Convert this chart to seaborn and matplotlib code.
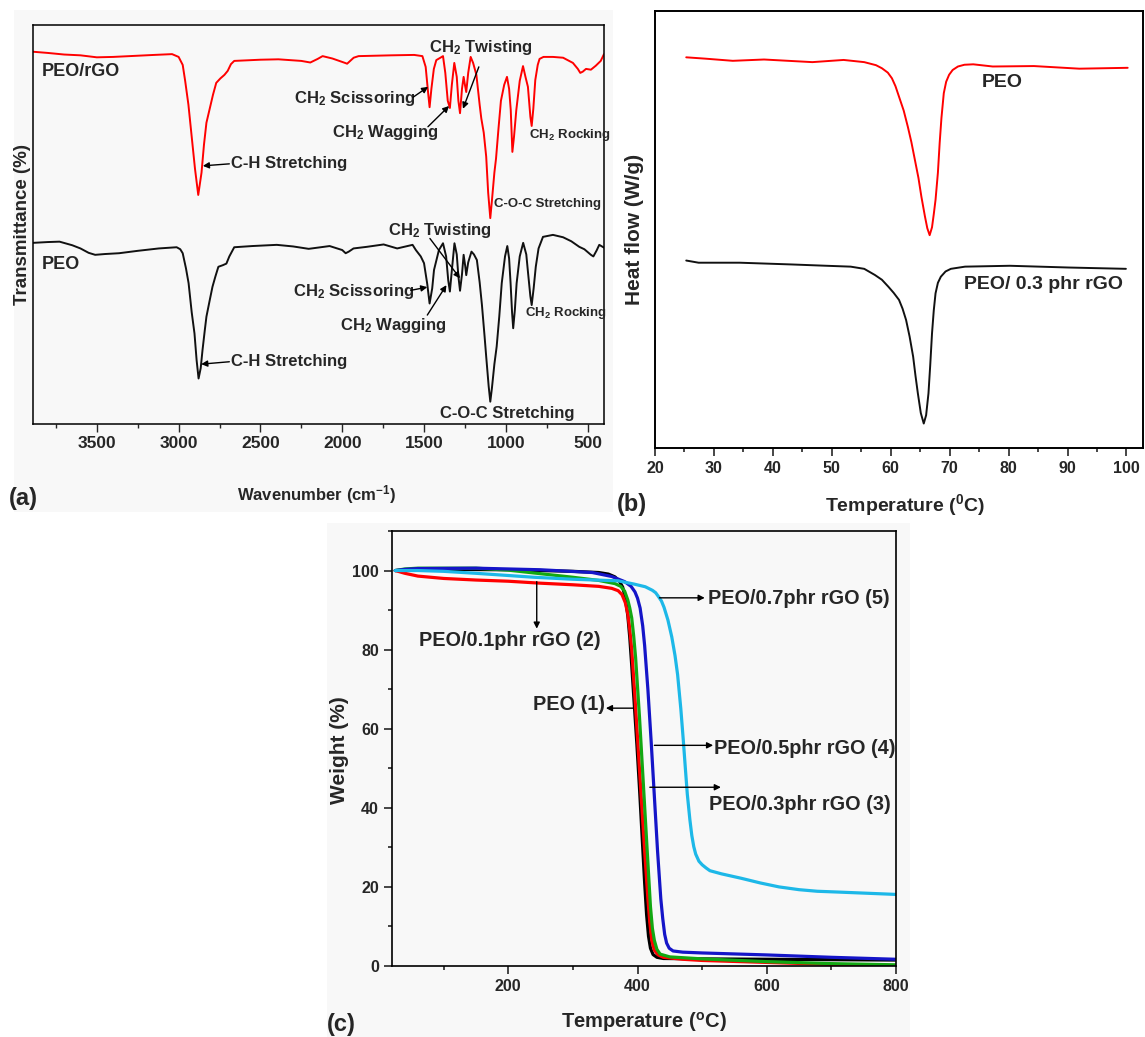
import matplotlib
matplotlib.use('Agg')
from matplotlib import pyplot as plt
from matplotlib.patches import Rectangle
from matplotlib.ticker import MultipleLocator
import seaborn as sns

# ---- (a) FTIR spectra (wavenumber cm-1, transmittance a.u.) ----
ftir_rgo_wn = [3890, 3800, 3700, 3600, 3500, 3400, 3300, 3150, 3040, 3000, 2975, 2960, 2940, 2920,
               2900, 2880, 2860, 2845, 2830, 2810, 2790, 2770, 2745, 2720, 2700, 2680, 2660, 2500,
               2390, 2250, 2195, 2150, 2120, 2060, 1990, 1970, 1930, 1900, 1700, 1560, 1510, 1490,
               1475, 1466, 1455, 1440, 1425, 1400, 1384, 1370, 1355, 1342, 1330, 1315, 1300, 1290,
               1280, 1268, 1258, 1250, 1242, 1230, 1215, 1200, 1180, 1160, 1150, 1135, 1120, 1108,
               1095, 1085, 1070, 1060, 1045, 1030, 1010, 993, 980, 970, 960, 950, 936, 915, 895,
               880, 865, 850, 842, 832, 820, 805, 794, 770, 712, 650, 590, 560, 545, 530, 510, 480,
               450, 420, 400]
ftir_rgo_t = [93.3, 93.0, 92.6, 92.4, 91.9, 92.0, 92.2, 92.5, 92.7, 92.0, 90.0, 86.0, 80.0, 72.0,
              64.0, 57.4, 63.0, 70.0, 75.5, 79.0, 82.5, 85.5, 86.6, 87.5, 88.5, 90.2, 91.0, 91.3,
              91.4, 91.0, 90.6, 91.5, 92.2, 91.6, 90.6, 90.3, 91.8, 92.2, 92.4, 92.5, 92.2, 89.5,
              83.0, 79.4, 84.0, 89.0, 91.2, 91.8, 92.2, 88.0, 81.0, 79.2, 85.0, 90.5, 87.0, 81.0,
              77.9, 84.0, 87.0, 85.0, 83.2, 88.0, 92.0, 90.5, 87.5, 80.0, 76.6, 73.0, 67.0, 58.0,
              51.6, 56.0, 63.0, 66.5, 74.0, 81.0, 85.0, 87.0, 84.0, 78.7, 68.2, 72.0, 78.7, 86.0,
              89.7, 87.0, 84.5, 77.0, 74.7, 79.0, 86.2, 90.0, 91.5, 92.0, 92.0, 91.8, 90.5, 89.0,
              88.0, 88.3, 89.0, 88.8, 89.8, 91.0, 92.7]
ftir_peo_wn = [3890, 3800, 3728, 3650, 3600, 3550, 3510, 3450, 3364, 3250, 3121, 3012, 2990, 2975,
               2955, 2939, 2920, 2903, 2890, 2878, 2865, 2854, 2840, 2830, 2810, 2793, 2775, 2757,
               2730, 2708, 2690, 2660, 2550, 2400, 2300, 2205, 2150, 2077, 2000, 1979, 1960, 1931,
               1850, 1747, 1664, 1570, 1550, 1520, 1500, 1480, 1466, 1450, 1439, 1409, 1384, 1365,
               1352, 1342, 1330, 1314, 1300, 1290, 1280, 1268, 1258, 1248, 1242, 1230, 1210, 1195,
               1177, 1160, 1146, 1130, 1120, 1105, 1095, 1085, 1070, 1056, 1040, 1025, 1005, 991,
               980, 971, 962, 955, 945, 934, 915, 894, 875, 864, 850, 842, 830, 817, 800, 773, 712,
               650, 600, 551, 520, 480, 465, 445, 429, 400]
ftir_peo_t = [45.4, 45.6, 45.7, 44.8, 44.0, 42.9, 42.4, 42.6, 42.8, 43.4, 44.0, 44.3, 43.8, 42.8,
              39.0, 35.3, 28.0, 22.7, 16.0, 11.4, 14.0, 18.5, 23.5, 26.9, 31.0, 34.4, 37.0, 39.4,
              39.8, 40.2, 42.0, 44.3, 44.6, 44.9, 44.5, 43.9, 44.2, 44.6, 43.6, 42.8, 43.2, 44.0,
              44.4, 45.0, 44.0, 44.9, 43.6, 42.0, 40.3, 35.0, 30.2, 34.0, 38.6, 43.6, 45.3, 42.0,
              36.0, 33.2, 38.5, 45.3, 42.5, 37.0, 33.4, 37.5, 42.4, 39.5, 37.3, 40.5, 43.2, 42.5,
              41.1, 35.5, 29.8, 22.0, 16.9, 9.5, 5.6, 9.0, 15.0, 19.4, 27.0, 35.3, 42.0, 44.6,
              41.5, 35.3, 28.0, 24.0, 28.5, 35.3, 42.0, 45.4, 42.5, 37.8, 32.0, 29.8, 34.0, 39.4,
              44.0, 46.9, 47.4, 46.8, 45.8, 44.4, 43.8, 42.4, 42.0, 43.5, 44.9, 44.2]

# ---- (b) DSC curves (temperature degC, heat flow a.u.) ----
dsc_peo_temp = [25.3, 28.5, 33.2, 38.5, 42.6, 46.7, 52.0, 55.5, 57.5, 58.5, 59.5, 60.2, 60.8, 61.4,
                62.2, 62.9, 63.5, 64.1, 64.7, 65.2, 65.8, 66.2, 66.6, 67.0, 67.3, 67.6, 68.0, 68.3,
                68.6, 69.0, 69.4, 69.9, 70.5, 71.4, 72.5, 74.0, 77.3, 84.3, 92.0, 100.2]
dsc_peo_hf = [89.4, 89.1, 88.6, 88.9, 88.6, 88.3, 88.8, 88.3, 87.6, 86.9, 85.9, 84.6, 82.8, 80.4,
              77.2, 73.5, 70.0, 65.9, 61.8, 57.5, 53.0, 50.3, 48.7, 50.5, 53.5, 56.8, 63.0, 69.8,
              75.5, 81.2, 83.8, 85.4, 86.5, 87.3, 87.7, 87.8, 87.3, 87.4, 86.8, 87.0]
dsc_rgo_temp = [25.3, 27.4, 34.4, 43.2, 49.1, 53.2, 55.5, 57.3, 58.5, 59.6, 60.5, 61.4, 62.0, 62.6,
                63.2, 63.8, 64.2, 64.6, 65.1, 65.6, 66.0, 66.4, 66.7, 67.0, 67.3, 67.6, 68.0, 68.5,
                69.3, 70.2, 72.6, 80.2, 90.2, 99.9]
dsc_rgo_hf = [42.9, 42.4, 42.4, 42.0, 41.7, 41.5, 41.0, 39.6, 38.5, 36.9, 35.5, 33.9, 31.9, 29.3,
              25.5, 20.9, 16.5, 12.5, 8.0, 5.6, 7.5, 12.5, 19.0, 26.2, 31.5, 35.4, 37.8, 39.2,
              40.4, 41.0, 41.5, 41.7, 41.3, 41.0]

# ---- (c) TGA curves (temperature degC, weight %) ----
tga_peo_temp = [25, 60, 100, 200, 300, 340, 355, 365, 372, 377, 381, 385, 388, 391, 395, 399, 403,
                407, 411, 414, 417, 420, 424, 430, 440, 500, 600, 700, 800]
tga_peo_wt = [100, 100.2, 100.3, 100.2, 99.8, 99.5, 99.1, 98.4, 97.3, 95.8, 93.2, 88.5, 83, 76, 66,
              56, 45, 33, 21, 13, 7.5, 4.5, 2.9, 2.2, 1.9, 1.8, 1.7, 1.6, 1.5]
tga_01_temp = [25, 40, 60, 100, 150, 200, 250, 300, 340, 360, 370, 376, 381, 385, 388, 391, 396,
               401, 406, 411, 416, 419, 422, 426, 432, 440, 470, 500, 600, 700, 800]
tga_01_wt = [100, 99.3, 98.6, 98.0, 97.6, 97.3, 96.8, 96.4, 96.0, 95.5, 94.9, 93.9, 91.9, 89, 85,
             80, 68, 55, 42, 29, 17, 11, 6.5, 4, 2.8, 2.2, 1.7, 1.4, 0.9, 0.4, 0.1]
tga_03_temp = [25, 40, 60, 150, 200, 250, 300, 340, 365, 374, 380, 385, 388, 391, 394, 397, 403,
               409, 415, 420, 423, 426, 430, 435, 450, 500, 600, 700, 800]
tga_03_wt = [100, 100.4, 100.6, 100.6, 100.1, 99.2, 98.3, 97.5, 96.7, 96.0, 94.8, 92.5, 90.5, 88,
             83.5, 78, 63, 46, 29, 15, 9.5, 6.5, 4.2, 3, 2.3, 1.8, 1.1, 0.6, 0.3]
tga_05_temp = [25, 40, 60, 150, 250, 330, 360, 380, 390, 396, 400, 404, 408, 411, 416, 421, 426,
               431, 436, 439, 442, 445, 449, 455, 470, 500, 600, 700, 800]
tga_05_wt = [100, 100.3, 100.5, 100.6, 100.2, 99.5, 98.5, 97.2, 96.0, 94.6, 93, 90.5, 86, 81, 70,
             57, 43, 29, 17, 12, 8, 5.8, 4.5, 3.8, 3.5, 3.3, 2.8, 2.2, 1.7]
tga_07_temp = [25, 60, 100, 150, 240, 300, 370, 394, 412, 423, 428, 432, 437, 441, 447, 453, 458,
               462, 467, 471, 474, 477, 481, 484, 487, 490, 495, 500, 506, 512, 530, 560, 590, 619,
               650, 678, 710, 740, 770, 800]
tga_07_wt = [100, 100.0, 99.8, 99.3, 98.3, 97.8, 97.4, 96.6, 95.9, 95.0, 94.4, 93.5, 92.3, 90.7,
             87.5, 83.2, 78.5, 73.7, 65, 56.7, 50, 43.5, 37, 33, 30.2, 28.3, 26.5, 25.6, 24.8, 24.1,
             23.3, 22.2, 21.0, 20.0, 19.3, 18.9, 18.7, 18.5, 18.3, 18.1]

W, H = 1145, 1037
GREY = '#f8f8f8'
ARROW = dict(arrowstyle='-|>', color='black', lw=1.0, mutation_scale=9, shrinkA=0, shrinkB=0)

sns.set_style('ticks')
plt.rcParams['font.family'] = ['Liberation Sans', 'DejaVu Sans']
plt.rcParams['font.weight'] = 'bold'
plt.rcParams['axes.labelweight'] = 'bold'
plt.rcParams['mathtext.fontset'] = 'custom'
plt.rcParams['mathtext.rm'] = 'Liberation Sans:bold'
plt.rcParams['mathtext.it'] = 'Liberation Sans:bold'
plt.rcParams['mathtext.bf'] = 'Liberation Sans:bold'
plt.rcParams['lines.solid_joinstyle'] = 'round'


def px_axes(fig, left, top, right, bottom):
    return fig.add_axes([left / W, 1 - bottom / H, (right - left) / W, (bottom - top) / H])


def frame(ax, lw):
    for s in ax.spines.values():
        s.set_visible(True)
        s.set_linewidth(lw)
        s.set_color('black')


def arrow(ax, tail, head):
    ax.annotate('', xy=head, xytext=tail, arrowprops=ARROW)


fig = plt.figure(figsize=(W / 100, H / 100), dpi=100)
fig.patches.append(Rectangle((14 / W, 1 - 512 / H), 599 / W, 502 / H, transform=fig.transFigure,
                             facecolor=GREY, edgecolor='none', zorder=-10))
fig.patches.append(Rectangle((327 / W, 0), 583 / W, 514 / H, transform=fig.transFigure,
                             facecolor=GREY, edgecolor='none', zorder=-10))

# ---------------- (a) FTIR ----------------
ax = px_axes(fig, 33, 25, 604, 424)
ax.set_facecolor(GREY)
sns.lineplot(x=ftir_rgo_wn, y=ftir_rgo_t, ax=ax, color='#ff0000', lw=1.4, sort=False, estimator=None)
sns.lineplot(x=ftir_peo_wn, y=ftir_peo_t, ax=ax, color='#111111', lw=1.4, sort=False, estimator=None)
ax.set_xlim(3890, 400); ax.set_ylim(0, 100)
ax.set_yticks([])
ax.xaxis.set_major_locator(MultipleLocator(500)); ax.xaxis.set_minor_locator(MultipleLocator(250))
ax.tick_params(axis='x', which='major', length=5.8, width=1, labelsize=12.5, pad=3, direction='out')
ax.tick_params(axis='x', which='minor', length=3, width=1, direction='out')
frame(ax, 1.1)
ax.set_xlabel('Wavenumber (cm$^{-1}$)', fontsize=12)
ax.xaxis.set_label_coords(0.496, -0.148)
ax.set_ylabel('Transmittance (%)', fontsize=13.5)
ax.yaxis.set_label_coords(-0.004, 0.5)

ax.text(3838, 88.3, 'PEO/rGO', fontsize=13, va='center')
ax.text(3838, 40.1, 'PEO', fontsize=13, va='center')
fs = 12
ax.text(2680, 65.4, 'C-H Stretching', fontsize=fs, va='center')
arrow(ax, (2690, 65.2), (2852, 64.7))
ax.text(2680, 15.6, 'C-H Stretching', fontsize=fs, va='center')
arrow(ax, (2690, 15.6), (2862, 15.0))
ax.text(2296, 81.6, 'CH$_2$ Scissoring', fontsize=fs, va='center')
arrow(ax, (1567, 81.9), (1475, 84.5))
ax.text(1471, 94.4, 'CH$_2$ Twisting', fontsize=fs, va='center')
arrow(ax, (1165, 89.5), (1262, 79.0))
ax.text(2065, 73.0, 'CH$_2$ Wagging', fontsize=fs, va='center')
arrow(ax, (1476, 74.5), (1347, 79.7))
ax.text(856, 72.4, 'CH$_2$ Rocking', fontsize=9.5, va='center')
ax.text(1070, 55.1, 'C-O-C Stretching', fontsize=9.5, va='center')
ax.text(1718, 48.4, 'CH$_2$ Twisting', fontsize=fs, va='center')
arrow(ax, (1464, 46.5), (1280, 36.5))
ax.text(2300, 33.2, 'CH$_2$ Scissoring', fontsize=fs, va='center')
arrow(ax, (1581, 33.5), (1480, 34.3))
ax.text(2016, 24.8, 'CH$_2$ Wagging', fontsize=fs, va='center')
arrow(ax, (1480, 27.3), (1363, 34.8))
ax.text(883, 27.7, 'CH$_2$ Rocking', fontsize=9.5, va='center')
ax.text(1402, 2.7, 'C-O-C Stretching', fontsize=fs, va='center')

# ---------------- (b) DSC ----------------
ax = px_axes(fig, 655, 11, 1143, 448)
ax.set_facecolor('white')
sns.lineplot(x=dsc_peo_temp, y=dsc_peo_hf, ax=ax, color='#ff0000', lw=1.4, sort=False, estimator=None)
sns.lineplot(x=dsc_rgo_temp, y=dsc_rgo_hf, ax=ax, color='#111111', lw=1.4, sort=False, estimator=None)
ax.set_xlim(20, 102.8); ax.set_ylim(0, 100)
ax.set_yticks([])
ax.xaxis.set_major_locator(MultipleLocator(10)); ax.xaxis.set_minor_locator(MultipleLocator(5))
ax.tick_params(axis='x', which='major', length=5.5, width=1.2, labelsize=11.5, pad=4, direction='out')
ax.tick_params(axis='x', which='minor', length=3, width=1.2, direction='out')
frame(ax, 1.4)
ax.set_xlabel('Temperature ($^{\\mathrm{0}}$C)', fontsize=14)
ax.xaxis.label.set_va('center')
ax.xaxis.set_label_coords(0.512, -0.130)
ax.set_ylabel('Heat flow (W/g)', fontsize=15)
ax.yaxis.set_label_coords(-0.022, 0.5)
ax.text(75.4, 83.7, 'PEO', fontsize=14, va='center')
ax.text(72.5, 37.3, 'PEO/ 0.3 phr rGO', fontsize=14, va='center')

# ---------------- (c) TGA ----------------
ax = px_axes(fig, 392, 531, 896, 966)
ax.set_facecolor(GREY)
tga = [(tga_peo_temp, tga_peo_wt, '#000000'), (tga_01_temp, tga_01_wt, '#ff0000'),
       (tga_03_temp, tga_03_wt, '#12a812'), (tga_05_temp, tga_05_wt, '#1515c8'),
       (tga_07_temp, tga_07_wt, '#1db8e8')]
for t, w, c in tga:
    sns.lineplot(x=t, y=w, ax=ax, color=c, lw=2.3, sort=False, estimator=None)
ax.set_xlim(20, 800); ax.set_ylim(0, 110)
ax.xaxis.set_major_locator(MultipleLocator(200)); ax.xaxis.set_minor_locator(MultipleLocator(100))
ax.yaxis.set_major_locator(MultipleLocator(20)); ax.yaxis.set_minor_locator(MultipleLocator(10))
ax.tick_params(which='major', length=5.5, width=1.2, labelsize=11.5, pad=4, direction='out')
ax.tick_params(which='minor', length=3, width=1.2, direction='out')
frame(ax, 1.2)
ax.set_xlabel('Temperature ($^{\\mathrm{o}}$C)', fontsize=14.5)
ax.xaxis.label.set_va('center')
ax.xaxis.set_label_coords(0.5, -0.129)
ax.set_ylabel('Weight (%)', fontsize=15)
ax.yaxis.set_label_coords(-0.085, 0.497)

fs = 14.3
ax.text(62, 82.2, 'PEO/0.1phr rGO (2)', fontsize=fs, va='center')
arrow(ax, (244, 97.2), (244, 85.3))
ax.text(349, 66.2, 'PEO (1)', fontsize=fs, va='center', ha='right')
arrow(ax, (393, 65.2), (351, 65.2))
ax.text(509, 92.9, 'PEO/0.7phr rGO (5)', fontsize=fs, va='center')
arrow(ax, (434, 93.1), (504, 93.1))
ax.text(519, 54.9, 'PEO/0.5phr rGO (4)', fontsize=fs, va='center')
arrow(ax, (426, 55.8), (517, 55.8))
ax.text(511, 40.9, 'PEO/0.3phr rGO (3)', fontsize=fs, va='center')
arrow(ax, (419, 45.2), (529, 45.2))

# panel letters
fig.text(23.5 / W, 1 - 499 / H, '(a)', fontsize=17, ha='center', va='center')
fig.text(632 / W, 1 - 505 / H, '(b)', fontsize=17, ha='center', va='center')
fig.text(341 / W, 1 - 1024 / H, '(c)', fontsize=17, ha='center', va='center')

fig.savefig('out.png', dpi=100)
